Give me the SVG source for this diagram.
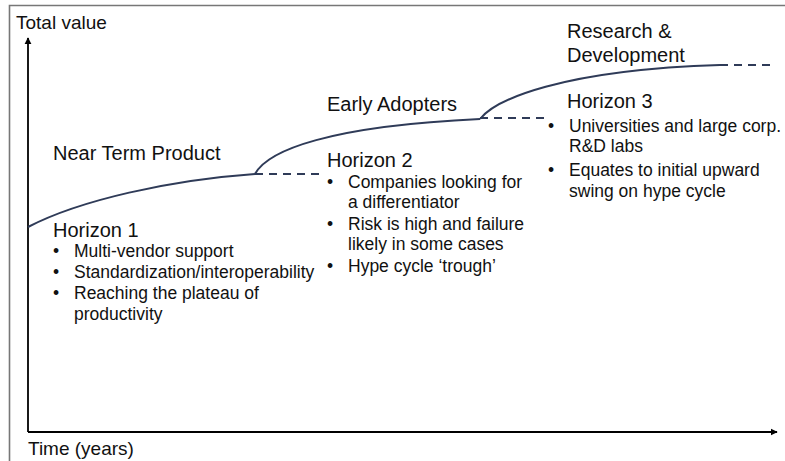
<svg xmlns="http://www.w3.org/2000/svg" width="785" height="461" viewBox="0 0 785 461">
<style>
text{font-family:"Liberation Sans",Arial,sans-serif;fill:#111}
.h{font-size:20px}
.b{font-size:17.5px}
.ax{font-size:19px}
.curve{fill:none;stroke:#2f3b58;stroke-width:2}
.dash{fill:none;stroke:#2f3b58;stroke-width:2;stroke-dasharray:8 6}
.axis{stroke:#000;stroke-width:1.8;fill:none}
</style>
<defs>
<marker id="ah" viewBox="0 0 10 10" refX="9" refY="5" markerWidth="4" markerHeight="4" orient="auto" markerUnits="strokeWidth">
<path d="M0,0 L10,5 L0,10 z" fill="#000"/>
</marker>
</defs>
<rect width="785" height="461" fill="#fff"/>
<path d="M9.5,461 V5.5 H785" fill="none" stroke="#777" stroke-width="1.6"/>
<g id="axes">
<path class="axis" d="M28,432 V38" marker-end="url(#ah)"/>
<path class="axis" d="M28,432 H777" marker-end="url(#ah)"/>
<text class="ax" x="16" y="29">Total value</text>
<text class="ax" x="28" y="455">Time (years)</text>
</g>
<g id="connectors">
<path class="curve" d="M28,227 C80,200 170,180 255,174"/>
<path class="dash" d="M255,174 H322"/>
<path class="curve" d="M255,174 C268,150 330,126 480,119"/>
<path class="dash" d="M480,118 H545"/>
<path class="curve" d="M480,119 C495,100 560,70 720,65"/>
<path class="dash" d="M720,65 H775"/>
</g>
<g id="horizon1">
<text class="h" x="53" y="160">Near Term Product</text>
<text class="h" x="53" y="237">Horizon 1</text>
<text class="b" x="53" y="257">•</text>
<text class="b" x="74" y="257">Multi-vendor support</text>
<text class="b" x="53" y="278">•</text>
<text class="b" x="74" y="278">Standardization/interoperability</text>
<text class="b" x="53" y="299">•</text>
<text class="b" x="74" y="299">Reaching the plateau of</text>
<text class="b" x="74" y="320">productivity</text>
</g>
<g id="horizon2">
<text class="h" x="327" y="111">Early Adopters</text>
<text class="h" x="327" y="167">Horizon 2</text>
<text class="b" x="327" y="188">•</text>
<text class="b" x="348" y="188">Companies looking for</text>
<text class="b" x="348" y="208">a differentiator</text>
<text class="b" x="327" y="230">•</text>
<text class="b" x="348" y="230">Risk is high and failure</text>
<text class="b" x="348" y="250">likely in some cases</text>
<text class="b" x="327" y="272">•</text>
<text class="b" x="348" y="272">Hype cycle ‘trough’</text>
</g>
<g id="horizon3">
<text class="h" x="567" y="38">Research &amp;</text>
<text class="h" x="567" y="62">Development</text>
<text class="h" x="567" y="108">Horizon 3</text>
<text class="b" x="548" y="132">•</text>
<text class="b" x="569" y="132">Universities and large corp.</text>
<text class="b" x="569" y="152">R&amp;D labs</text>
<text class="b" x="548" y="176">•</text>
<text class="b" x="569" y="176">Equates to initial upward</text>
<text class="b" x="569" y="197">swing on hype cycle</text>
</g>
</svg>
